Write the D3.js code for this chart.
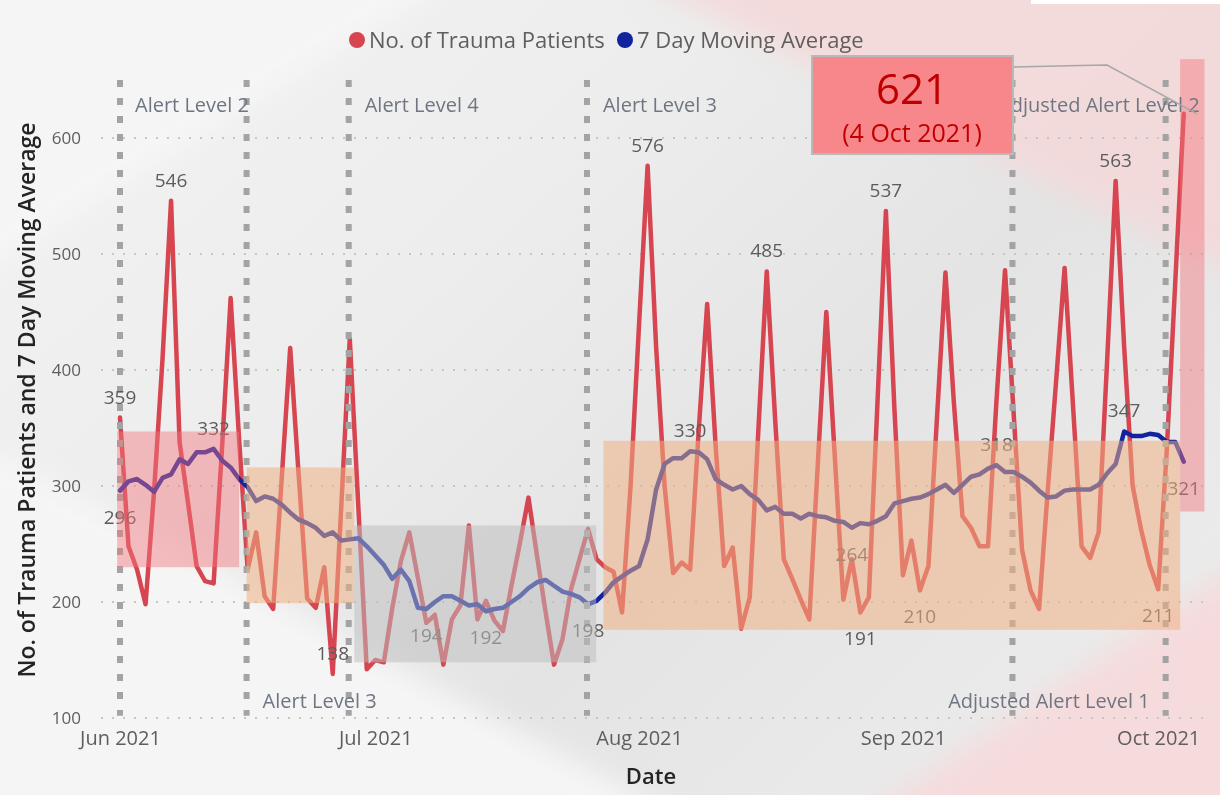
<!DOCTYPE html>
<html>
<head>
<meta charset="utf-8">
<script src="https://cdn.jsdelivr.net/npm/d3@7"></script>
<style>
  html, body { margin: 0; padding: 0; background: #eeeeee; }
  svg { display: block; font-family: "Open Sans", "Noto Sans", sans-serif; }
</style>
</head>
<body>
<svg id="chart" width="1220" height="795"></svg>
<script>
// ---- data -------------------------------------------------------------
// daily series, first day 1 Jun 2021, last day 4 Oct 2021
const firstDay = "2021-06-01";

const traumaPatients = [
  359, 248, 228, 198, 295, 410, 546, 338, 285, 231,
  218, 216, 334, 462, 340, 228, 260, 205, 194, 306,
  419, 309, 203, 195, 230, 138, 282, 427, 283, 142,
  150, 148, 195, 235, 260, 221, 182, 189, 146, 185,
  197, 266, 185, 201, 184, 175, 214, 251, 290, 240,
  192, 146, 168, 211, 237, 263, 237, 230, 226, 191,
  300, 440, 576, 420, 300, 225, 234, 228, 347, 457,
  334, 231, 247, 177, 204, 346, 485, 356, 237, 220,
  202, 185, 319, 450, 325, 202, 237, 191, 204, 370,
  537, 367, 223, 253, 210, 231, 358, 484, 371, 274,
  264, 248, 248, 374, 486, 364, 245, 210, 194, 294,
  390, 488, 368, 248, 238, 260, 408, 563, 420, 300,
  262, 232, 211, 330, 475, 621
];

const movingAverage = [
  296, 304, 306, 301, 295, 307, 310, 323, 319, 329,
  329, 332, 322, 316, 306, 299, 287, 291, 289, 284,
  277, 271, 268, 264, 257, 260, 253, 254, 255, 248,
  240, 232, 220, 228, 218, 195, 194, 200, 205, 205,
  201, 197, 198, 192, 194, 195, 200, 205, 212, 217,
  219, 214, 209, 207, 204, 198, 201, 208, 217, 222,
  227, 231, 254, 297, 319, 324, 324, 330, 329, 323,
  306, 301, 297, 300, 293, 288, 279, 282, 276, 276,
  272, 276, 274, 273, 270, 269, 264, 268, 267, 270,
  274, 285, 287, 289, 290, 293, 297, 301, 294, 301,
  308, 310, 315, 318, 312, 312, 308, 303, 296, 290,
  291, 296, 297, 297, 297, 301, 311, 319, 347, 343,
  343, 345, 344, 338, 338, 321
];

// alert level periods: shaded band in time and patient count
const bandLevel = ["Alert Level 2", "Alert Level 3", "Alert Level 4", "Alert Level 3", "Adjusted Alert Level 2"];
const bandStart = ["2021-05-31T16:00", "2021-06-15T21:00", "2021-06-28T12:45", "2021-07-27T19:40", "2021-10-03T14:00"];
const bandEnd   = ["2021-06-15T00:00", "2021-06-28T12:45", "2021-07-26T23:00", "2021-10-03T14:00", "2021-10-06T10:30"];
const bandLow   = [230, 199, 148, 176, 278];
const bandHigh  = [347, 316, 266, 339, 668];

// dates on which the alert level changed
const alertChanges = ["2021-06-01T00:00", "2021-06-15T21:00", "2021-06-27T21:00",
                      "2021-07-25T21:00", "2021-09-13T21:00", "2021-10-01T21:00"];
const alertTitles = ["Alert Level 2", "Alert Level 3", "Alert Level 4",
                     "Alert Level 3", "Adjusted Alert Level 1", "Adjusted Alert Level 2"];

const yTicks = [100, 200, 300, 400, 500, 600];

// days whose values carry a data label
const patientLabelDays = [0, 6, 25, 62, 76, 87, 90, 94, 117, 122];
const averageLabelDays = [0, 11, 36, 43, 55, 67, 86, 103, 118, 125];

// ---- layout -----------------------------------------------------------
const W = 1220, H = 795;
const RED = "#D64550", BLUE = "#12239E";
const parse = d3.timeParse("%Y-%m-%dT%H:%M");
const parseDay = d3.timeParse("%Y-%m-%d");
const day0 = parseDay(firstDay);
const dates = traumaPatients.map((_, i) => d3.timeDay.offset(day0, i));

const x = d3.scaleTime()
  .domain([parse("2021-05-29T15:36"), parse("2021-10-06T12:00")])
  .range([100, 1205]);
const y = d3.scaleLinear().domain([100, 650]).range([718, 80]);

const svg = d3.select("#chart");
const defs = svg.append("defs");

// ---- background -------------------------------------------------------
const g0 = defs.append("linearGradient").attr("id", "bgGrad")
  .attr("x1", "0").attr("y1", "0").attr("x2", "1").attr("y2", "0.7");
[["0", "#f3f3f3"], ["0.4", "#ededed"], ["0.7", "#e4e4e4"], ["1", "#ebebeb"]]
  .forEach(([o, c]) => g0.append("stop").attr("offset", o).attr("stop-color", c));
const soft = defs.append("filter").attr("id", "soft")
  .attr("x", "-30%").attr("y", "-30%").attr("width", "160%").attr("height", "160%");
soft.append("feGaussianBlur").attr("stdDeviation", 14);

svg.append("rect").attr("width", W).attr("height", H).attr("fill", "url(#bgGrad)");
const bgLayer = svg.append("g").attr("filter", "url(#soft)");
bgLayer.append("polygon").attr("points", "-60,420 760,860 -60,860").attr("fill", "#f5f5f5");
bgLayer.append("polygon").attr("points", "-60,-60 520,-60 -60,300").attr("fill", "#f5f5f5");
bgLayer.append("polygon").attr("points", "560,-60 1290,-60 1290,300 1000,160").attr("fill", "#f4d8d9").attr("opacity", 0.85);
bgLayer.append("polygon").attr("points", "800,860 1290,860 1290,530").attr("fill", "#f6d9da").attr("opacity", 0.9);
svg.append("rect").attr("x", 1031).attr("y", 0).attr("width", 189).attr("height", 4).attr("fill", "#ffffff");

// ---- grid & axes ------------------------------------------------------
svg.append("g").selectAll("line").data(yTicks).join("line")
  .attr("x1", 101).attr("x2", 1210)
  .attr("y1", d => y(d)).attr("y2", d => y(d))
  .attr("stroke", "#c6c6c6").attr("stroke-width", 2)
  .attr("stroke-dasharray", "2 9");

svg.append("g").selectAll("text").data(yTicks).join("text")
  .attr("x", 81).attr("y", d => y(d) + 6)
  .attr("text-anchor", "end").attr("font-size", 17).attr("fill", "#605E5C")
  .text(d => d);

const xAxis = d3.axisBottom(x).ticks(d3.timeMonth.every(1))
  .tickFormat(d3.timeFormat("%b %Y")).tickSize(0).tickPadding(0);
const xg = svg.append("g").attr("transform", "translate(0,729)").call(xAxis);
xg.select(".domain").remove();
xg.selectAll("text").attr("font-size", 20).attr("fill", "#605E5C")
  .attr("font-family", "\"Open Sans\", sans-serif").attr("dy", "0.8em");

svg.append("text").attr("x", 651).attr("y", 784).attr("text-anchor", "middle")
  .attr("font-size", 22).attr("font-weight", 600).attr("fill", "#252423").text("Date");
svg.append("text").attr("transform", "translate(35,400) rotate(-90)")
  .attr("text-anchor", "middle").attr("font-size", 23).attr("font-weight", 600)
  .attr("fill", "#252423").text("No. of Trauma Patients and 7 Day Moving Average");

// ---- legend -----------------------------------------------------------
const legend = svg.append("g");
[["No. of Trauma Patients", RED, 357], ["7 Day Moving Average", BLUE, 625]].forEach(([t, c, lx]) => {
  legend.append("circle").attr("cx", lx).attr("cy", 40).attr("r", 8).attr("fill", c);
  legend.append("text").attr("x", lx + 12).attr("y", 48).attr("font-size", 22)
    .attr("fill", "#605E5C").text(t);
});

// ---- series -----------------------------------------------------------
const line = d3.line().x((d, i) => x(dates[i])).y(d => y(d));
svg.append("path").datum(traumaPatients).attr("d", line)
  .attr("fill", "none").attr("stroke", RED).attr("stroke-width", 4.5)
  .attr("stroke-linejoin", "round").attr("stroke-linecap", "round");
svg.append("path").datum(movingAverage).attr("d", line)
  .attr("fill", "none").attr("stroke", BLUE).attr("stroke-width", 4.5)
  .attr("stroke-linejoin", "round").attr("stroke-linecap", "round");

// alert level change markers
svg.append("g").selectAll("line").data(alertChanges).join("line")
  .attr("x1", d => x(parse(d))).attr("x2", d => x(parse(d)))
  .attr("y1", y(650)).attr("y2", y(102))
  .attr("stroke", "#a3a3a3").attr("stroke-width", 6).attr("stroke-dasharray", "7 11");

// data labels
const labels = svg.append("g").attr("font-size", 19).attr("fill", "#5c5c5c").attr("text-anchor", "middle");
const patientBelow = new Set([87, 94, 122]);
const averageBelow = new Set([0, 36, 43, 55, 86, 125]);
patientLabelDays.forEach(i => {
  labels.append("text").attr("x", x(dates[i]))
    .attr("y", y(traumaPatients[i]) + (patientBelow.has(i) ? 33 : -14))
    .text(traumaPatients[i]);
});
averageLabelDays.forEach(i => {
  labels.append("text").attr("x", x(dates[i]))
    .attr("y", y(movingAverage[i]) + (averageBelow.has(i) ? 33 : -14))
    .text(movingAverage[i]);
});

// ---- alert level bands (translucent, over the series) -----------------
const bandFill = {
  "Alert Level 2": ["rgb(244,118,127)", 0.45],
  "Alert Level 3": ["rgb(240,176,129)", 0.53],
  "Alert Level 4": ["rgb(190,190,190)", 0.52],
  "Adjusted Alert Level 2": ["rgb(244,118,127)", 0.45]
};
svg.append("g").selectAll("rect").data(bandLevel).join("rect")
  .attr("x", (d, i) => x(parse(bandStart[i])))
  .attr("width", (d, i) => x(parse(bandEnd[i])) - x(parse(bandStart[i])))
  .attr("y", (d, i) => y(bandHigh[i]))
  .attr("height", (d, i) => y(bandLow[i]) - y(bandHigh[i]))
  .attr("fill", d => bandFill[d][0]).attr("fill-opacity", d => bandFill[d][1]);

// alert level names beside the change markers
const alertText = svg.append("g").attr("font-size", 20).attr("fill", "#6f7682");
const topY = 112, bottomY = 708;
const titlePlacement = [
  { at: 0, dx: 15, yy: topY, anchor: "start" },
  { at: 1, dx: 16, yy: bottomY, anchor: "start" },
  { at: 2, dx: 16, yy: topY, anchor: "start" },
  { at: 3, dx: 16, yy: topY, anchor: "start" },
  { at: 5, dx: -16, yy: bottomY, anchor: "end" },
  { at: 5, dx: 34, yy: topY, anchor: "end" }
];
alertTitles.forEach((t, k) => {
  const p = titlePlacement[k];
  alertText.append("text").attr("x", x(parse(alertChanges[p.at])) + p.dx).attr("y", p.yy)
    .attr("text-anchor", p.anchor).text(t);
});

// ---- latest value callout ---------------------------------------------
const last = traumaPatients.length - 1;
const lx = x(dates[last]), ly = y(traumaPatients[last]);
svg.append("polyline")
  .attr("points", `1013,67 1107,65 ${lx + 13},${ly}`)
  .attr("fill", "none").attr("stroke", "#a6a6a6").attr("stroke-width", 1.5);
const callout = svg.append("g");
callout.append("rect").attr("x", 812).attr("y", 56).attr("width", 201).attr("height", 98)
  .attr("fill", "#F7878B").attr("stroke", "#b9b9b9").attr("stroke-width", 2);
callout.append("text").attr("x", 912).attr("y", 104).attr("text-anchor", "middle")
  .attr("font-size", 42).attr("fill", "#C00000").text(traumaPatients[last]);
callout.append("text").attr("x", 912).attr("y", 142).attr("text-anchor", "middle")
  .attr("font-size", 25).attr("fill", "#C00000")
  .text(`(${d3.timeFormat("%-d %b %Y")(dates[last])})`);
</script>
</body>
</html>
